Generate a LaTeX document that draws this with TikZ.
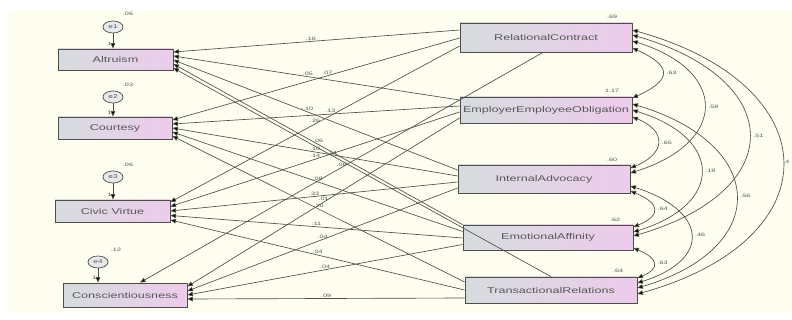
\documentclass[tikz,border=0pt]{standalone}
\usepackage{fontspec}
\setmainfont{Liberation Sans}
\newfontfamily\boxfont[FakeStretch=1.5]{Liberation Sans}
\usetikzlibrary{arrows.meta,calc,shapes.geometric}
\definecolor{bg}{HTML}{FDFDF0}
\definecolor{ln}{HTML}{4E4E46}
\definecolor{boxl}{HTML}{D6DCDE}
\definecolor{boxr}{HTML}{EDCBEC}
\definecolor{txt}{HTML}{585858}
\begin{document}
\begin{tikzpicture}[x=1pt,y=-1pt,
  var/.style={draw=ln, line width=0.8pt, left color=boxl, right color=boxr, inner sep=0pt,
    font=\boxfont\fontsize{8.4}{9}\selectfont, text=txt},
  err/.style={ellipse, draw=ln, line width=0.7pt, fill=boxl!60, minimum width=20pt,
    minimum height=12pt, inner sep=0pt, font=\boxfont\fontsize{5.5}{6}\selectfont, text=txt},
  regpath/.style={draw=ln, line width=0.65pt, -{Triangle[length=5.5pt,width=4.5pt,fill=black]}},
  covarc/.style={draw=ln, line width=0.65pt, {Triangle[length=5.5pt,width=4.5pt,fill=black]}-{Triangle[length=5.5pt,width=4.5pt,fill=black]}},
  lbl/.style={font=\boxfont\fontsize{4.8}{5}\selectfont, text=txt, inner sep=1pt},
  clbl/.style={lbl, right=3pt},
]
\useasboundingbox (0,0) rectangle (792,320);
\fill[bg] (8,10) rectangle (792,313);

% left observed variables
\node[var, minimum width=115pt, minimum height=21pt] (Alt) at (115.5,59.5) {Altruism};
\node[var, minimum width=114pt, minimum height=22pt] (Cou) at (115,128) {Courtesy};
\node[var, minimum width=115pt, minimum height=22pt] (Civ) at (112.5,211) {Civic Virtue};
\node[var, minimum width=124pt, minimum height=24pt] (Con) at (125,295) {Conscientiousness};

% error terms
\node[err] (e1) at (113,27) {e1};
\node[err] (e2) at (113,97) {e2};
\node[err] (e3) at (113,177) {e3};
\node[err] (e4) at (98,262) {e4};
\node[lbl] (v1) at (128,14) {.06};
\node[lbl] (v2) at (128,85) {.03};
\node[lbl] (v3) at (128,165) {.06};
\node[lbl] (v4) at (116,250) {.12};
\draw[regpath] (e1.south) -- node[lbl,left,pos=0.7]{1} (e1.south |- Alt.north);
\draw[regpath] (e2.south) -- node[lbl,left,pos=0.7]{1} (e2.south |- Cou.north);
\draw[regpath] (e3.south) -- node[lbl,left,pos=0.7]{1} (e3.south |- Civ.north);
\draw[regpath] (e4.south) -- node[lbl,left,pos=0.7]{1} (e4.south |- Con.north);

% right observed variables
\node[var, minimum width=172pt, minimum height=29pt] (RC) at (546,37.5) {RelationalContract};
\node[var, minimum width=172pt, minimum height=26pt] (EEO) at (546,110) {EmployerEmployeeObligation};
\node[var, minimum width=172pt, minimum height=28pt] (IA) at (544,179) {InternalAdvocacy};
\node[var, minimum width=170pt, minimum height=25pt] (EA) at (548,237.5) {EmotionalAffinity};
\node[var, minimum width=172pt, minimum height=26pt] (TR) at (551,290) {TransactionalRelations};
\node[lbl] (r1) at (612,17) {.69};
\node[lbl] (r2) at (612,91) {1.17};
\node[lbl] (r3) at (612,160) {.60};
\node[lbl] (r4) at (615,220) {.62};
\node[lbl] (r5) at (618,271) {.64};

% regression paths to Altruism
\draw[regpath] ($(RC.west)+(0,-7.5)$) -- node[lbl,above,pos=0.52]{.16} ($(Alt.east)+(0,-7.5)$);
\draw[regpath] ($(EEO.west)+(0,-10)$) -- node[lbl,above,pos=0.53]{.05} ($(Alt.east)+(0,-3.5)$);
\draw[regpath] ($(IA.west)+(0,-9)$) -- node[lbl,above,pos=0.53]{-.10} ($(Alt.east)+(0,0.5)$);
\draw[regpath] (EA.north west) -- node[lbl,above,pos=0.5]{.06} ($(Alt.east)+(0,4.5)$);
\draw[regpath] (TR.north) -- node[lbl,above,pos=0.58]{.14} ($(Alt.east)+(0,8.5)$);
% to Courtesy
\draw[regpath] ($(RC.west)+(0,0.5)$) -- node[lbl,above,pos=0.46]{.07} ($(Cou.east)+(0,-8)$);
\draw[regpath] ($(EEO.west)+(0,-4)$) -- node[lbl,above,pos=0.45]{.13} ($(Cou.east)+(0,-4)$);
\draw[regpath] ($(IA.west)+(0,-3)$) -- node[lbl,above,pos=0.5]{.10} ($(Cou.east)+(0,0)$);
\draw[regpath] ($(EA.west)+(0,-6)$) -- node[lbl,above,pos=0.5]{.08} ($(Cou.east)+(0,4)$);
\draw[regpath] ($(TR.west)+(0,-8)$) -- node[lbl,above,pos=0.5]{.20} ($(Cou.east)+(0,8)$);
% to Civic Virtue
\draw[regpath] ($(RC.west)+(0,8.5)$) -- node[lbl,above,pos=0.5]{.26} ($(Civ.east)+(0,-9)$);
\draw[regpath] ($(EEO.west)+(0,2)$) -- node[lbl,above,pos=0.5]{.14} ($(Civ.east)+(0,-4.5)$);
\draw[regpath] ($(IA.west)+(0,3)$) -- node[lbl,above,pos=0.5]{.33} ($(Civ.east)+(0,0)$);
\draw[regpath] ($(EA.west)+(0,0.5)$) -- node[lbl,above,pos=0.5]{.11} ($(Civ.east)+(0,4.5)$);
\draw[regpath] ($(TR.west)+(0,0)$) -- node[lbl,above,pos=0.5]{.04} ($(Civ.east)+(0,9)$);
% to Conscientiousness
\draw[regpath] ($(RC.south)+(-3,0)$) -- node[lbl,above,pos=0.5]{.06} ($(Con.north)+(15,0)$);
\draw[regpath] ($(EEO.west)+(0,8)$) -- node[lbl,above,pos=0.5]{.01} ($(Con.east)+(0,-8.5)$);
\draw[regpath] ($(IA.west)+(0,9)$) -- node[lbl,above,pos=0.5]{.04} ($(Con.east)+(0,-4)$);
\draw[regpath] ($(EA.west)+(0,7)$) -- node[lbl,above,pos=0.5]{.04} ($(Con.east)+(0,0)$);
\draw[regpath] ($(TR.west)+(0,8)$) -- node[lbl,above,pos=0.5]{.09} ($(Con.east)+(0,4)$);

% covariances
\draw[covarc] ($(RC.east)+(0,10.5)$) .. controls +(40,18) and +(40,-18) .. ($(EEO.east)+(0,-12)$) node[clbl,pos=0.5]{.63};
\draw[covarc] ($(RC.east)+(0,3.5)$) .. controls +(97,30) and +(97,-30) .. ($(IA.east)+(0,-6)$) node[clbl,pos=0.5]{.58};
\draw[covarc] ($(RC.east)+(0,-2.5)$) .. controls +(155,45) and +(155,-45) .. ($(EA.east)+(0,-1.5)$) node[clbl,pos=0.5]{.51};
\draw[covarc] ($(RC.east)+(0,-7.5)$) .. controls +(197,55) and +(197,-55) .. ($(TR.east)+(0,4)$) node[lbl,pos=0.5,right=0.5pt,inner sep=0pt]{.4};
\draw[covarc] ($(EEO.east)+(0,7)$) .. controls +(35,14) and +(35,-14) .. ($(IA.east)+(0,-11)$) node[clbl,pos=0.5]{.65};
\draw[covarc] ($(EEO.east)+(0,0)$) .. controls +(91,28) and +(91,-28) .. ($(EA.east)+(0,-5.5)$) node[clbl,pos=0.5]{.18};
\draw[covarc] ($(EEO.east)+(0,-6)$) .. controls +(135,40) and +(135,-40) .. ($(TR.east)+(0,-2)$) node[clbl,pos=0.5]{.56};
\draw[covarc] ($(IA.east)+(0,12)$) .. controls +(29,12) and +(29,-12) .. ($(EA.east)+(0,-10.5)$) node[clbl,pos=0.5]{.64};
\draw[covarc] ($(IA.east)+(0,7)$) .. controls +(76,24) and +(76,-24) .. ($(TR.east)+(0,-7)$) node[clbl,pos=0.5]{.46};
\draw[covarc] ($(EA.east)+(0,10.5)$) .. controls +(24,10) and +(24,-10) .. ($(TR.east)+(0,-12)$) node[clbl,pos=0.5]{.63};
\end{tikzpicture}
\end{document}
